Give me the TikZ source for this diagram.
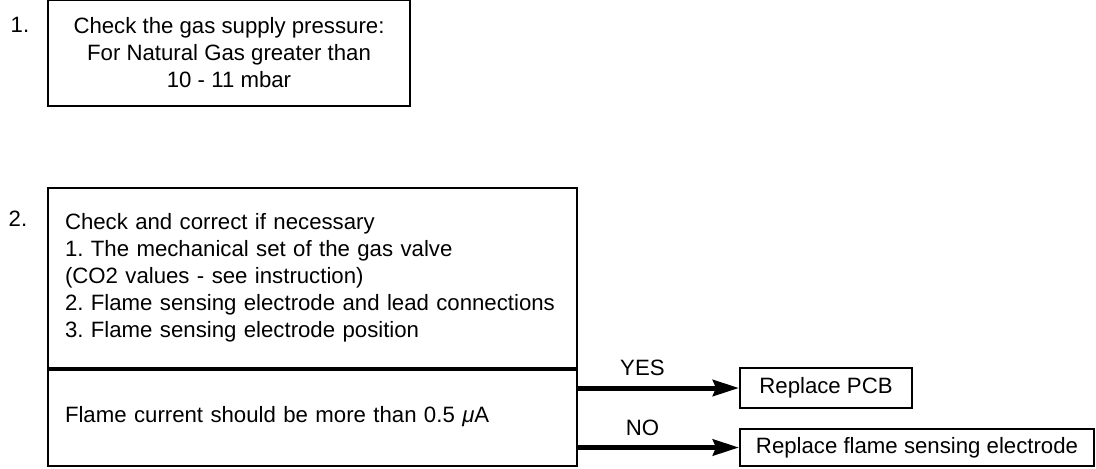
\documentclass[tikz,border=0pt]{standalone}
\usepackage{fontspec}
\setmainfont{Liberation Sans}
\usetikzlibrary{arrows.meta}
\frenchspacing
\begin{document}
\begin{tikzpicture}[x=0.5pt, y=-0.5pt,
    every node/.style={font=\fontsize{11.1}{13.5}\selectfont},
    stepbox/.style={draw, line width=1pt, inner sep=0pt},
    flow/.style={line width=2.5pt, -{Stealth[length=13pt, width=8pt, inset=1.5pt]}}]
  \useasboundingbox (0,0) rectangle (1096,468);
  \node (one) at (20,25) {1.};
  \node[stepbox, align=center, minimum width=181pt, minimum height=53pt] (pressure) at (229,53)
    {Check the gas supply pressure:\\For Natural Gas greater than\\10 - 11 mbar};
  \node (two) at (18,219) {2.};
  \node[stepbox, align=left, text width=247.5pt, minimum width=264.5pt, minimum height=90pt] (check) at (312.5,278)
    {Check and correct if necessary\\1. The mechanical set of the gas valve\\(CO2 values - see instruction)\\2. Flame sensing electrode and lead connections\\3. Flame sensing electrode position};
  \node[stepbox, align=left, text width=247.5pt, minimum width=264.5pt, minimum height=49pt] (current) at (312.5,417)
    {Flame current should be more than 0.5 {\itshape μ}A};
  \draw[line width=2pt] (check.south west) -- (check.south east);
  \node[stepbox, minimum width=86pt, minimum height=20pt] (pcb) at (826,388) {Replace PCB};
  \node[stepbox, minimum width=177pt, minimum height=18.5pt] (electrode) at (917,447.5) {Replace flame sensing electrode};
  \draw[flow] (current.east |- pcb) -- node[pos=0.4, above=1.5pt] {YES} (pcb);
  \draw[flow] (current.east |- electrode) -- node[pos=0.4, above=1.5pt] {NO} (electrode);
\end{tikzpicture}
\end{document}
